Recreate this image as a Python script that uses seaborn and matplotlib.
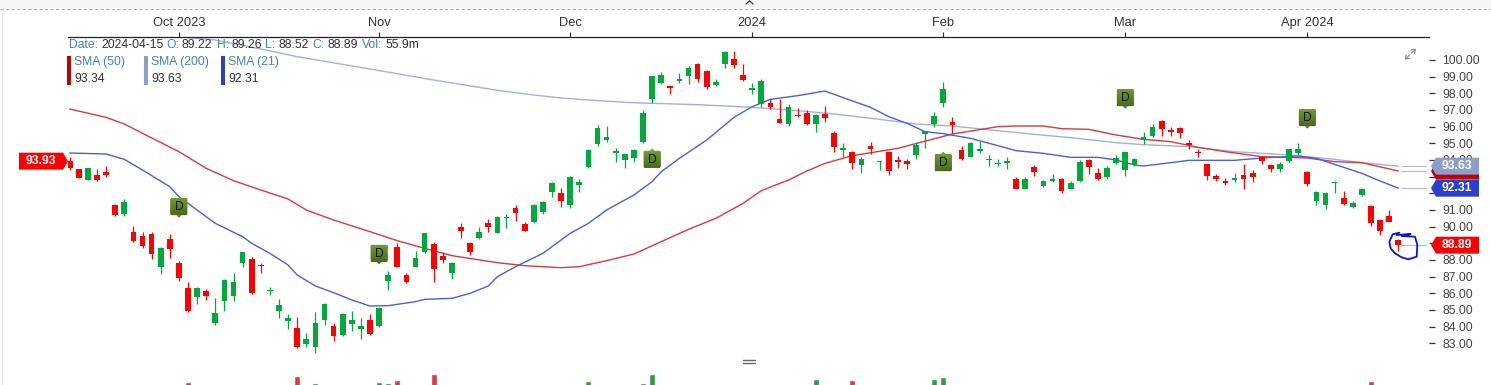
import numpy as np
import pandas as pd
import matplotlib
matplotlib.use('Agg')
import matplotlib.pyplot as plt
from matplotlib.patches import Polygon, FancyBboxPatch
import seaborn as sns

# ---- daily prices (Sep 2023 - 2024-04-15)
open_px = [93.96,93.44,92.80,93.12,93.30,91.32,90.76,89.66,89.46,89.54,87.60,89.26,87.80,86.30,85.80,86.16,84.20,85.54,85.86,87.80,
           88.08,87.70,86.14,84.94,84.36,83.90,82.96,82.80,84.40,84.04,83.50,84.16,83.84,84.38,84.04,86.74,88.80,87.12,87.60,88.50,
           88.94,88.26,87.20,90.00,89.00,89.30,90.20,89.64,90.52,91.14,90.14,90.26,90.90,92.08,92.00,91.28,92.48,93.60,94.96,95.20,
           94.42,94.00,94.14,95.10,97.64,98.64,98.44,98.74,99.02,99.78,99.36,98.48,99.76,100.04,99.10,98.20,97.36,97.40,96.46,96.16,
           96.68,96.84,96.14,96.74,95.60,94.60,94.48,93.68,94.82,93.86,94.48,93.98,93.96,94.32,95.54,96.16,97.44,96.26,94.62,94.20,
           94.56,93.98,93.74,93.84,92.84,92.26,93.56,92.44,92.76,92.84,92.28,92.74,94.00,93.24,93.00,93.80,93.40,93.68,95.20,95.44,
           96.32,95.80,95.94,95.00,94.48,93.74,93.04,92.72,92.80,93.08,93.24,94.16,93.68,93.44,93.92,94.44,93.28,91.52,91.28,92.62,
           91.72,91.20,91.90,91.24,90.38,90.64,89.22]
high_px = [94.20,93.44,93.50,93.44,93.64,91.36,91.64,90.04,89.66,89.66,88.76,89.54,87.94,86.66,86.36,86.24,85.70,86.84,87.20,88.50,
           88.16,87.84,86.36,85.64,84.76,84.56,83.60,84.90,85.40,84.20,84.84,84.96,84.50,84.76,85.16,87.34,89.04,87.20,88.54,89.64,
           89.06,88.46,87.90,90.20,89.10,89.96,90.44,90.64,90.76,91.30,90.26,91.36,91.54,92.70,92.30,93.04,92.86,94.66,96.08,96.06,
           94.70,94.40,94.68,97.00,99.06,99.30,98.46,99.24,99.64,99.84,99.40,98.84,100.52,100.56,99.74,98.64,98.84,97.64,97.66,97.36,
           97.10,97.00,96.74,97.26,95.76,95.00,94.54,94.16,95.06,93.94,94.54,94.26,94.06,95.10,95.76,96.90,98.66,96.60,94.84,95.10,
           95.16,94.30,94.04,94.16,93.00,93.00,93.70,92.80,93.16,92.90,92.74,94.00,94.04,93.50,93.64,94.30,94.50,94.14,95.66,96.16,
           96.38,96.00,96.00,95.20,94.66,93.78,93.16,92.94,93.24,93.74,93.40,94.24,93.76,93.86,94.68,95.00,93.32,92.16,92.06,92.74,
           92.16,91.52,92.34,91.28,90.40,90.98,89.26]
low_px = [93.40,92.94,92.80,92.76,93.00,90.66,90.64,89.10,88.74,88.06,87.14,88.10,86.74,84.88,85.36,85.60,84.10,84.94,85.54,87.60,
          85.96,87.20,85.88,84.50,83.84,82.74,82.76,82.44,84.10,83.16,83.44,83.76,83.24,83.52,83.96,86.20,87.56,86.60,87.56,88.44,
          86.70,87.80,86.86,89.30,88.30,89.26,89.66,89.60,89.90,90.36,89.72,90.20,90.76,91.76,91.16,91.12,92.06,93.54,94.86,95.06,
          93.86,93.54,93.86,95.00,97.40,98.56,97.96,98.60,98.56,98.68,98.24,98.44,99.50,99.50,98.76,97.96,97.16,97.04,96.20,96.04,
          96.60,96.12,95.66,96.26,94.48,94.16,93.46,93.22,94.34,93.40,93.10,93.52,93.46,94.08,94.74,95.98,97.18,95.64,94.00,94.16,
          94.44,93.64,93.64,93.46,92.24,92.24,93.04,92.36,92.68,92.00,92.24,92.70,93.16,92.82,92.88,93.76,93.02,93.64,94.94,95.38,
          95.46,95.46,95.32,94.66,94.20,92.80,92.76,92.48,92.68,92.28,92.68,93.74,93.28,93.28,93.90,94.28,92.44,91.30,91.04,92.04,
          91.32,91.10,91.84,90.04,89.50,90.26,88.52]
close_px = [93.54,92.94,93.50,92.80,93.08,90.70,91.46,89.16,88.84,88.36,88.70,88.66,86.90,84.96,86.30,85.84,84.84,86.80,86.70,88.46,
            86.04,87.62,86.20,85.30,84.50,82.76,83.26,84.24,85.36,83.44,84.78,84.38,84.04,83.56,85.10,87.08,87.60,86.70,88.10,89.60,
            87.46,87.98,87.80,89.76,88.50,89.66,90.00,90.60,90.60,90.84,89.76,91.32,91.50,92.64,91.54,92.98,92.66,94.62,95.90,95.36,
            94.56,94.34,94.62,96.80,99.02,99.10,98.30,98.88,99.52,98.88,98.40,98.70,100.50,99.70,98.80,98.30,98.72,97.16,96.24,97.20,
            96.62,96.16,96.68,96.50,94.80,94.72,93.84,94.08,94.64,93.92,93.36,93.90,93.78,94.88,95.72,96.66,98.24,96.08,94.06,95.00,
            94.66,94.04,93.84,93.92,92.28,92.84,93.28,92.74,92.86,92.12,92.62,93.90,93.60,92.86,93.50,94.12,94.46,94.08,95.40,96.00,
            95.88,95.68,95.64,94.88,94.40,93.04,92.84,92.62,92.90,92.88,92.98,93.92,93.44,93.78,94.66,94.64,92.56,92.06,92.04,92.68,
            91.36,91.40,92.24,90.24,89.76,90.30,88.89]

# ---- moving averages, read at selected sessions
sma50_day = [0,4,6,8,12,15,18,21,24,26,29,33,36,39,42,47,50,54,56,59,62,65,68,71,74,76,79,81,83,86,91,97,102,104,107,109,112,115,118,121,124,127,131,136,139,142,146]
sma50_val = [97.06,96.56,96.16,95.60,94.50,93.50,92.76,92.20,91.66,91.00,90.40,89.70,89.16,88.70,88.26,87.84,87.66,87.54,87.60,87.96,88.36,89.10,89.84,90.50,91.40,92.16,92.80,93.34,93.80,94.26,94.70,95.56,96.00,96.04,96.04,95.88,95.84,95.50,95.24,95.10,94.76,94.50,94.20,94.12,93.90,93.84,93.34]
sma21_day = [0,4,6,8,11,12,14,16,19,20,22,24,25,27,29,31,33,35,38,39,42,44,46,47,49,52,55,57,59,62,64,65,67,70,73,75,77,80,83,85,88,90,92,94,96,99,102,104,107,110,113,115,117,118,121,123,128,131,135,137,139,142,144,146]
sma21_val = [94.42,94.36,94.04,93.40,92.40,91.80,91.00,90.20,89.40,89.00,88.40,87.70,87.10,86.44,86.04,85.60,85.24,85.26,85.50,85.64,85.70,86.00,86.44,87.00,87.60,88.40,89.60,90.20,91.00,91.90,92.70,93.30,94.10,95.20,96.56,97.20,97.64,97.86,98.14,97.74,97.16,96.60,96.20,95.70,95.58,95.30,94.86,94.56,94.40,94.16,94.16,94.00,93.70,93.64,93.84,93.98,93.98,94.12,94.24,94.10,93.74,93.20,92.74,92.31]
sma200_day = [12,16,21,25,33,40,47,51,54,57,61,64,69,75,80,84,89,93,97,102,106,110,115,118,123,128,134,139,142,146]
sma200_val = [101.40,101.20,100.66,100.20,99.46,98.80,98.18,97.90,97.72,97.60,97.46,97.40,97.32,97.16,96.96,96.76,96.44,96.16,96.04,95.76,95.54,95.34,95.04,94.92,94.80,94.50,94.30,94.04,93.84,93.63]

# ---- volume (only the tips show above the bottom edge), in millions
vol_day = [13,20,25,27,34,35,36,40,43,55,57,63,64,69,82,86,95,96,143,144]
vol_val = [72,64.5,102,67.5,72,67.5,84,108,63,63,78,67.5,109.5,63,88.5,84,87,97.5,79.5,63]
vol_dir = ['dn','dn','dn','up','up','up','dn','dn','dn','up','up','up','up','dn','up','dn','up','up','dn','dn']

month_day = [12,34,55,75,96,116,136]
month_lab = ['Oct 2023','Nov','Dec','2024','Feb','Mar','Apr 2024']
price_ticks = list(range(83,101))
hidden_labels = [92, 93]  # these sit fully behind the sma price tags
div_day = [12,34,64,96,116,136]
div_pos = [91.20,88.40,94.04,93.84,97.74,96.54]
div_dir = ['down','down','up','up','down','down']

RED = '#ff0000'
GREEN = '#00a93c'
C50 = '#d83a3a'
C200 = '#a3b0dc'
C21 = '#4a60d8'
TXT = '#333333'
LAB = '#4682b4'

sns.set_theme(style="white")
plt.rcParams['font.family'] = ['Liberation Sans', 'DejaVu Sans']

W, H = 1491, 385
fig = plt.figure(figsize=(W/100, H/100), dpi=100)

df = pd.DataFrame({'o': open_px, 'h': high_px, 'l': low_px, 'c': close_px})
df['day'] = df.index
df['top'] = df[['o', 'c']].max(axis=1)
df['bot'] = df[['o', 'c']].min(axis=1)
df['col'] = np.where(df['c'] >= df['o'], GREEN, RED)

# main panel: 68..1429 px wide, 37 px down to the figure edge
ax = fig.add_axes([68/W, 0, (1429-68)/W, (H-37)/H])
ax.set_facecolor('none')

# sma lines
for days, vals, col, lw in [(sma200_day, sma200_val, C200, 1.0),
                            (sma50_day, sma50_val, C50, 1.0),
                            (sma21_day, sma21_val, C21, 1.0)]:
    sns.lineplot(x=days, y=vals, color=col, linewidth=lw, ax=ax, legend=False, zorder=2, estimator=None)

# gray stubs from the last session to the price tags
for v in [sma200_val[-1], sma50_val[-1], sma21_val[-1], close_px[-1]]:
    ax.hlines(v, 146.3, 149, color='#bbbbbb', lw=0.8, zorder=1)

# candles
ax.vlines(df['day'], df['l'], df['h'], colors=df['col'], lw=0.9, zorder=3)
ax.bar(df['day'], (df['top']-df['bot']).clip(lower=0.07), bottom=df['bot'], width=0.62, color=df['col'], linewidth=0, zorder=3)

ax.set_xlim((68-69.7)/9.1, (1429-69.7)/9.1)
ax.set_ylim(103.6-0.02*1155, 103.6-0.02*111)

ax.xaxis.tick_top()
ax.set_xticks(month_day)
ax.set_xticklabels(month_lab, fontsize=9.3, color=TXT)
ax.yaxis.tick_right()
ax.set_yticks(price_ticks)
ax.set_yticklabels(['' if p in hidden_labels else f'{p:.2f}' for p in price_ticks], fontsize=8.7, color='#444444')
ax.tick_params(axis='x', direction='out', length=3.6, width=0.8, color='#333333', pad=2, top=True, bottom=False)
ax.tick_params(axis='y', direction='out', length=4.5, width=0.9, color='#333333', pad=5, right=True, left=False)
for s in ['left', 'right', 'bottom']:
    ax.spines[s].set_visible(False)
ax.spines['top'].set_color('#222222')
ax.spines['top'].set_linewidth(0.9)
ax.grid(False)

# volume panel, cut off by the bottom of the screenshot
ax_vol = fig.add_axes([68/W, 0, (1429-68)/W, 20/H])
ax_vol.set_facecolor('none')
vol_df = pd.DataFrame({'day': vol_day, 'vol': vol_val, 'dir': vol_dir})
sns.barplot(data=vol_df, x='day', y='vol', hue='dir', palette={'up': '#22a846', 'dn': '#f5202a'},
            native_scale=True, dodge=False, width=0.66, legend=False, ax=ax_vol)
ax_vol.set_xlim(ax.get_xlim())
ax_vol.set_ylim(60, 150)
ax_vol.axis('off')

# overlay in screen pixels for the chrome around the chart
ov = fig.add_axes([0, 0, 1, 1], zorder=10)
ov.set_xlim(0, W)
ov.set_ylim(H, 0)
ov.axis('off')
ov.patch.set_alpha(0)

fig.canvas.draw()
def px(day, price):
    x, y = ax.transData.transform((day, price))
    return x, H - y

ov.fill_between([0, W], 0, 8, color='#f5f5f5', lw=0)
ov.plot([0, W], [8.5, 8.5], color='#aaaaaa', lw=0.8, ls=(0, (3, 2)))
ov.plot([1.5, 1.5], [8.5, H], color='#e6e6e6', lw=1)
ov.plot([746, 749.5, 753], [4, 0.8, 4], color='#333333', lw=0.9)
ov.plot([743, 755], [360, 360], color='#666666', lw=1)
ov.plot([743, 755], [363, 363], color='#666666', lw=1)

# readout line
y0 = 44.5
for x, s, c in [(68.5, 'Date:', LAB), (101, '2024-04-15', TXT), (166.5, 'O:', LAB), (182, '89.22', TXT),
                (216.5, 'H:', LAB), (232, '89.26', TXT), (265.5, 'L:', LAB), (278.5, '88.52', TXT),
                (312.5, 'C:', LAB), (328, '88.89', TXT), (362, 'Vol:', LAB), (385, '55.9m', TXT)]:
    ov.text(x, y0, s, color=c, fontsize=8.7, va='center', ha='left')

# sma legend
for x, name, val, col in [(66.5, 'SMA (50)', '93.34', '#c00000'),
                          (143.5, 'SMA (200)', '93.63', '#8e9dcc'),
                          (220.5, 'SMA (21)', '92.31', '#2a3fcc')]:
    ov.fill_between([x, x+4.2], 56, 85, color=col, lw=0)
    ov.text(x+7.5, 62, name, color=LAB, fontsize=8.7, va='center', ha='left')
    ov.text(x+7.5, 79, val, color=TXT, fontsize=8.7, va='center', ha='left')

# price tags
def tag(price, text, col, side='right'):
    _, y = px(0, price)
    if side == 'right':
        pts = [(1431, y), (1436, y-8.5), (1479, y-8.5), (1479, y+8.5), (1436, y+8.5)]
        tx = 1442
    else:
        pts = [(68, y), (63, y-8.5), (19, y-8.5), (19, y+8.5), (63, y+8.5)]
        tx = 26
    ov.add_patch(Polygon(pts, closed=True, fc=col, ec='none'))
    if text:
        ov.text(tx, y, text, color='white', fontsize=8.7, va='center', ha='left', fontweight='bold')

tag(sma50_val[-1], '', '#c00000')  # covered by the 93.63 tag, only its edge shows
tag(sma200_val[-1], f'{sma200_val[-1]:.2f}', '#8e9dcc')
tag(sma21_val[-1], f'{sma21_val[-1]:.2f}', '#2a3fcc')
tag(close_px[-1], f'{close_px[-1]:.2f}', RED)
tag(93.93, '93.93', RED, side='left')

# D markers
grad = np.linspace(0, 1, 32).reshape(-1, 1)
cmap = matplotlib.colors.LinearSegmentedColormap.from_list('dbadge', ['#6f9c2e', '#4a6a1a'])
for d, p, way in zip(div_day, div_pos, div_dir):
    x, y = px(d, p)
    x0, y0b, w, h = x-8.5, y-8.5, 17, 17
    box = FancyBboxPatch((x0+1.5, y0b+1.5), w-3, h-3, boxstyle='round,pad=1.5', fc='#55801f', ec='none')
    ov.add_patch(box)
    im = ov.imshow(grad, extent=(x0, x0+w, y0b+h, y0b), cmap=cmap, aspect='auto', zorder=2)
    im.set_clip_path(box)
    if way == 'down':
        ov.add_patch(Polygon([(x-2.5, y+8.5), (x+2.5, y+8.5), (x, y+11)], fc='#4a6a1a', ec='none'))
    else:
        ov.add_patch(Polygon([(x-2.5, y-8.5), (x+2.5, y-8.5), (x, y-11)], fc='#6f9c2e', ec='none'))
    ov.text(x, y+0.3, 'D', color='#111111', fontsize=8.7, ha='center', va='center', zorder=3)

# hand drawn ring around the last candle
ring_zx = [1190,1232,1205,1245,1252,1250,1225,1205,1185,1172,1168,1178,1198]
ring_zy = [705,702,708,710,735,770,778,772,760,745,725,703,698]
ov.plot([1000+v/3 for v in ring_zx], [v/3 for v in ring_zy], color='#0a10e0', lw=1.3, solid_joinstyle='round')

# expand icon
for a, b in [((1409.5, 55), (1405, 59.5)), ((1411.5, 53), (1416, 49))]:
    ov.annotate('', xy=b, xytext=a, arrowprops=dict(arrowstyle='->,head_length=0.2,head_width=0.15', color='#888888',
                                                    lw=0.8, shrinkA=0, shrinkB=0))

ov.set_xlim(0, W)
ov.set_ylim(H, 0)
fig.savefig('out.png', dpi=100)
